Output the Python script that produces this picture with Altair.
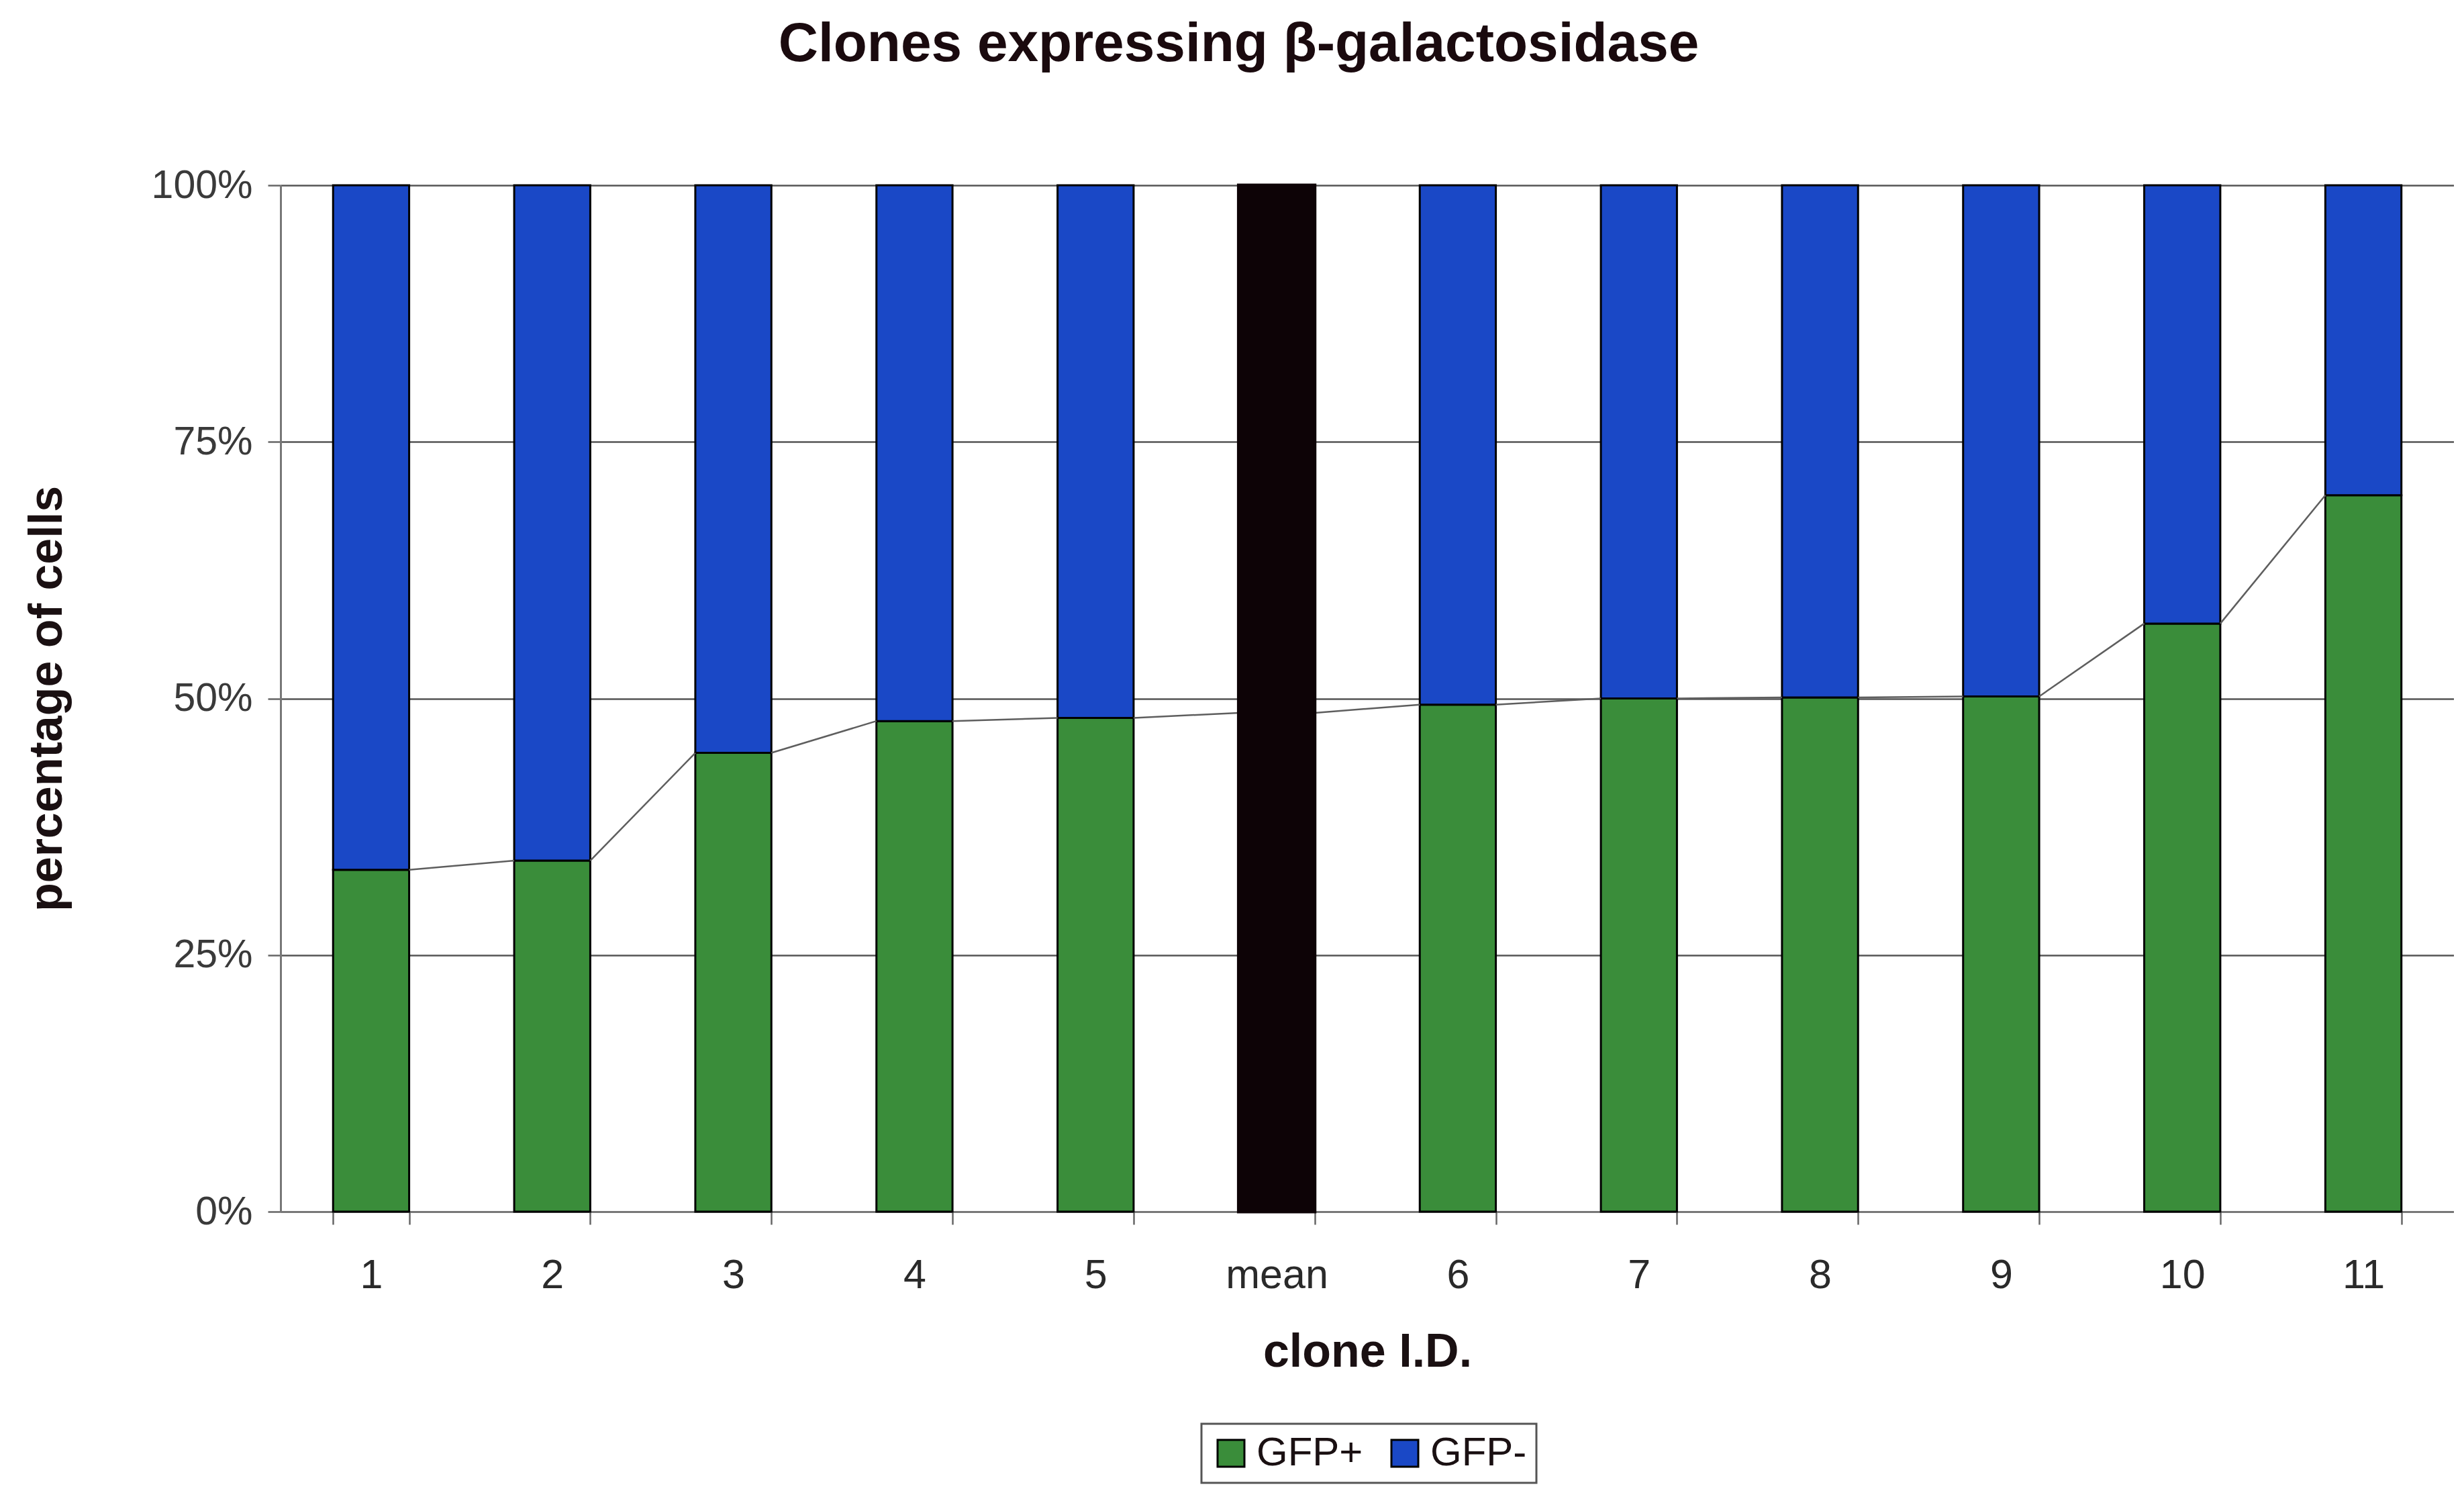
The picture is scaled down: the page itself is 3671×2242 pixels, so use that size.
import altair as alt
import pandas as pd

# ---- data ----
categories = ["1", "2", "3", "4", "5", "mean", "6", "7", "8", "9", "10", "11"]
gfp_plus = [33.3, 34.2, 44.7, 47.8, 48.1, 48.6, 49.4, 50.0, 50.1, 50.2, 57.3, 69.8]
series_names = ["GFP+", "GFP-"]
series_colors = ["#3a8d3a", "#1a48c6"]
y_ticks = [0, 25, 50, 75, 100]
mean_label = "mean"

# ---- tables built from the arrays ----
rows = []
for c, p in zip(categories, gfp_plus):
    if c == mean_label:
        continue
    rows.append(dict(clone=c, series="GFP+", start=0.0, end=p))
    rows.append(dict(clone=c, series="GFP-", start=p, end=100.0))
bars_df = pd.DataFrame(rows)
mean_df = pd.DataFrame([dict(clone=mean_label, start=0.0, end=100.0)])
seg_df = pd.DataFrame([
    dict(a=categories[i], b=categories[i + 1], ya=gfp_plus[i], yb=gfp_plus[i + 1])
    for i in range(len(categories) - 1)
])

FONT = "Liberation Sans"
W, H = 3238, 1529
PAD_IN = 0.58
step = W / len(categories)
half_bar = step * (1 - PAD_IN) / 2

xscale = alt.Scale(domain=categories, paddingInner=PAD_IN, paddingOuter=PAD_IN / 2)
yscale = alt.Scale(domain=[0, 100], nice=False, zero=True)

x_axis = alt.Axis(
    title="clone I.D.", titleFont=FONT, titleFontSize=70, titleFontWeight="bold",
    titleColor="#1a1012", titlePadding=50,
    labelFont=FONT, labelFontSize=61, labelColor="#2a2a2a", labelPadding=46,
    labelAngle=0, tickBand="extent", tickSize=19, tickWidth=2.5, tickColor="#666",
    domainColor="#777", domainWidth=3, grid=False,
)
y_axis = alt.Axis(
    title="percentage of cells", titleFont=FONT, titleFontSize=70, titleFontWeight="bold",
    titleColor="#1a1012", titlePadding=119,
    values=y_ticks, labelExpr="datum.value + '%'",
    labelFont=FONT, labelFontSize=59, labelColor="#3a3a3a", labelPadding=23,
    tickSize=19, tickWidth=2.5, tickColor="#666",
    domainColor="#777", domainWidth=3,
    grid=True, gridColor="#555555", gridWidth=2.5,
)

bars = alt.Chart(bars_df).mark_bar(stroke="black", strokeWidth=3).encode(
    x=alt.X("clone:N", sort=categories, scale=xscale, axis=x_axis),
    y=alt.Y("start:Q", scale=yscale, axis=y_axis),
    y2="end:Q",
    color=alt.Color(
        "series:N",
        scale=alt.Scale(domain=series_names, range=series_colors),
        legend=alt.Legend(
            title=None, orient="none", legendX=1372, legendY=1845,
            direction="horizontal", symbolType="square", symbolSize=1600,
            symbolStrokeColor="black", symbolStrokeWidth=3,
            labelFont=FONT, labelFontSize=60, labelColor="#1a1012",
            labelOffset=8, columnPadding=32, padding=14,
            strokeColor="#555", fillColor="white",
        ),
    ),
)

mean_bar = alt.Chart(mean_df).mark_bar(color="#0d0306", stroke="#0d0306", strokeWidth=5).encode(
    x=alt.X("clone:N", sort=categories, scale=xscale),
    y=alt.Y("start:Q", scale=yscale),
    y2="end:Q",
)

series_lines = alt.Chart(seg_df).mark_rule(
    color="#5e5e5e", strokeWidth=2.5, xOffset=half_bar, x2Offset=-half_bar
).encode(
    x=alt.X("a:N", sort=categories, scale=xscale),
    x2="b:N",
    y=alt.Y("ya:Q", scale=yscale),
    y2="yb:Q",
)

chart = alt.layer(bars, series_lines, mean_bar).properties(
    width=W, height=H,
    padding={"left": 27, "top": 17, "right": 0, "bottom": 0},
    background="white",
    title=alt.TitleParams(
        text="Clones expressing β-galactosidase", font=FONT, fontSize=82,
        fontWeight="bold", color="#1a0a0e", anchor="middle", frame="bounds", offset=139,
    ),
).configure_view(stroke=None).configure_legend(strokeWidth=3)

chart.save("out.html", embed_options={"renderer": "svg", "actions": False})
